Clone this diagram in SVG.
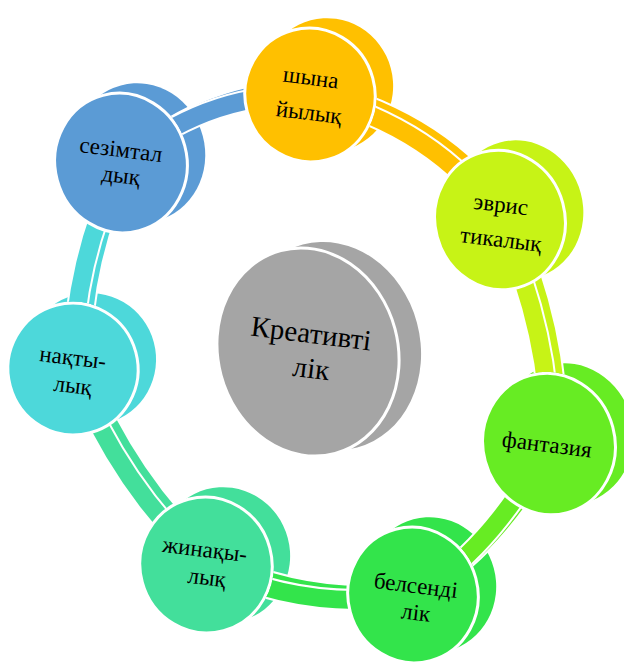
<svg xmlns="http://www.w3.org/2000/svg" width="624" height="666" viewBox="0 0 624 666">
<style>
.face{stroke:#fff;stroke-width:3}
.t{font-family:"Liberation Serif","Times New Roman",serif;font-size:23px;fill:#000;text-anchor:middle}
.tc{font-size:29px}
.bo{fill:none;stroke:#fff;stroke-width:22}
.bc{fill:none;stroke-width:18}
.m{fill:#000;stroke:#000;stroke-width:3}
</style>
<defs>
<path id="p1" d="M121,163 Q206.5,92 310,95"/>
<path id="p2" d="M310,95 Q437,127.5 500,220"/>
<path id="p3" d="M500,220 Q551.5,337 549,444"/>
<path id="p4" d="M549,444 Q487,555.5 413,595"/>
<path id="p5" d="M413,595 Q306.5,613 206,565"/>
<path id="p6" d="M206,565 Q120.5,488 73,369"/>
<path id="p7" d="M73,369 Q73,263 121,163"/>
<mask id="fm" maskUnits="userSpaceOnUse" x="0" y="0" width="624" height="666">
<rect width="624" height="666" fill="#fff"/>
<ellipse class="m" cx="121" cy="163" rx="66" ry="70" transform="rotate(-15 121 163)"/>
<ellipse class="m" cx="310" cy="95" rx="65" ry="67" transform="rotate(-15 310 95)"/>
<ellipse class="m" cx="500" cy="220" rx="65" ry="70" transform="rotate(-15 500 220)"/>
<ellipse class="m" cx="549" cy="444" rx="66" ry="71" transform="rotate(-15 549 444)"/>
<ellipse class="m" cx="413" cy="595" rx="65" ry="68" transform="rotate(-15 413 595)"/>
<ellipse class="m" cx="206" cy="565" rx="66" ry="68" transform="rotate(-15 206 565)"/>
<ellipse class="m" cx="73" cy="369" rx="65" ry="66" transform="rotate(-15 73 369)"/>
</mask>
</defs>

<g id="center">
<ellipse cx="330" cy="346" rx="90" ry="105" transform="rotate(-15 330 346)" fill="#A5A5A5"/>
<ellipse class="face" cx="308" cy="352" rx="90" ry="105" transform="rotate(-15 308 352)" fill="#A5A5A5"/>
<text class="t tc" x="310" y="343" transform="rotate(7 310 343)">Креативті</text>
<text class="t tc" x="310" y="378" transform="rotate(7 310 378)">лік</text>
</g>

<g id="n1">
<ellipse cx="139" cy="153" rx="66" ry="70" transform="rotate(-15 139 153)" fill="#5B9BD5"/>
<ellipse class="face" cx="121" cy="163" rx="66" ry="70" transform="rotate(-15 121 163)" fill="#5B9BD5"/>
<text class="t" x="120" y="157" transform="rotate(7 120 157)">сезімтал</text>
<text class="t" x="120" y="183" transform="rotate(7 120 183)">дық</text>
</g>

<g id="n2">
<ellipse cx="328" cy="85" rx="65" ry="67" transform="rotate(-15 328 85)" fill="#FFC000"/>
<ellipse class="face" cx="310" cy="95" rx="65" ry="67" transform="rotate(-15 310 95)" fill="#FFC000"/>
<text class="t" x="310" y="85" transform="rotate(7 310 85)">шына</text>
<text class="t" x="308" y="120" transform="rotate(7 308 120)">йылық</text>
</g>

<g id="n3">
<ellipse cx="518" cy="210" rx="65" ry="70" transform="rotate(-15 518 210)" fill="#C7F316"/>
<ellipse class="face" cx="500" cy="220" rx="65" ry="70" transform="rotate(-15 500 220)" fill="#C7F316"/>
<text class="t" x="500" y="212" transform="rotate(7 500 212)">эврис</text>
<text class="t" x="500" y="247" transform="rotate(7 500 247)">тикалық</text>
</g>

<g id="n4">
<ellipse cx="567" cy="434" rx="66" ry="71" transform="rotate(-15 567 434)" fill="#67EC23"/>
<ellipse class="face" cx="549" cy="444" rx="66" ry="71" transform="rotate(-15 549 444)" fill="#67EC23"/>
<text class="t" x="546" y="452" transform="rotate(7 546 452)">фантазия</text>
</g>

<g id="n5">
<ellipse cx="431" cy="585" rx="65" ry="68" transform="rotate(-15 431 585)" fill="#33E44B"/>
<ellipse class="face" cx="413" cy="595" rx="65" ry="68" transform="rotate(-15 413 595)" fill="#33E44B"/>
<text class="t" x="415" y="593" transform="rotate(7 415 593)">белсенді</text>
<text class="t" x="415" y="620" transform="rotate(7 415 620)">лік</text>
</g>

<g id="n6">
<ellipse cx="224" cy="555" rx="66" ry="68" transform="rotate(-15 224 555)" fill="#43DF9B"/>
<ellipse class="face" cx="206" cy="565" rx="66" ry="68" transform="rotate(-15 206 565)" fill="#43DF9B"/>
<text class="t" x="204" y="557" transform="rotate(7 204 557)">жинақы-</text>
<text class="t" x="206" y="585" transform="rotate(7 206 585)">лық</text>
</g>

<g id="n7">
<ellipse cx="91" cy="359" rx="65" ry="66" transform="rotate(-15 91 359)" fill="#4DD8DA"/>
<ellipse class="face" cx="73" cy="369" rx="65" ry="66" transform="rotate(-15 73 369)" fill="#4DD8DA"/>
<text class="t" x="72" y="365" transform="rotate(7 72 365)">нақты-</text>
<text class="t" x="72" y="393" transform="rotate(7 72 393)">лық</text>
</g>

<g id="connectors" mask="url(#fm)">
<use href="#p1" class="bo" transform="translate(8,-5)"/>
<use href="#p1" class="bc" stroke="#5B9BD5" transform="translate(8,-5)"/>
<use href="#p1" class="bo"/>
<use href="#p1" class="bc" stroke="#5B9BD5"/>
<use href="#p2" class="bo" transform="translate(8,-5)"/>
<use href="#p2" class="bc" stroke="#FFC000" transform="translate(8,-5)"/>
<use href="#p2" class="bo"/>
<use href="#p2" class="bc" stroke="#FFC000"/>
<use href="#p3" class="bo" transform="translate(8,-5)"/>
<use href="#p3" class="bc" stroke="#C7F316" transform="translate(8,-5)"/>
<use href="#p3" class="bo"/>
<use href="#p3" class="bc" stroke="#C7F316"/>
<use href="#p4" class="bo" transform="translate(8,-5)"/>
<use href="#p4" class="bc" stroke="#67EC23" transform="translate(8,-5)"/>
<use href="#p4" class="bo"/>
<use href="#p4" class="bc" stroke="#67EC23"/>
<use href="#p5" class="bo" transform="translate(8,-5)"/>
<use href="#p5" class="bc" stroke="#33E44B" transform="translate(8,-5)"/>
<use href="#p5" class="bo"/>
<use href="#p5" class="bc" stroke="#33E44B"/>
<use href="#p6" class="bo" transform="translate(8,-5)"/>
<use href="#p6" class="bc" stroke="#43DF9B" transform="translate(8,-5)"/>
<use href="#p6" class="bo"/>
<use href="#p6" class="bc" stroke="#43DF9B"/>
<use href="#p7" class="bo" transform="translate(8,-5)"/>
<use href="#p7" class="bc" stroke="#4DD8DA" transform="translate(8,-5)"/>
<use href="#p7" class="bo"/>
<use href="#p7" class="bc" stroke="#4DD8DA"/>
</g>
</svg>
